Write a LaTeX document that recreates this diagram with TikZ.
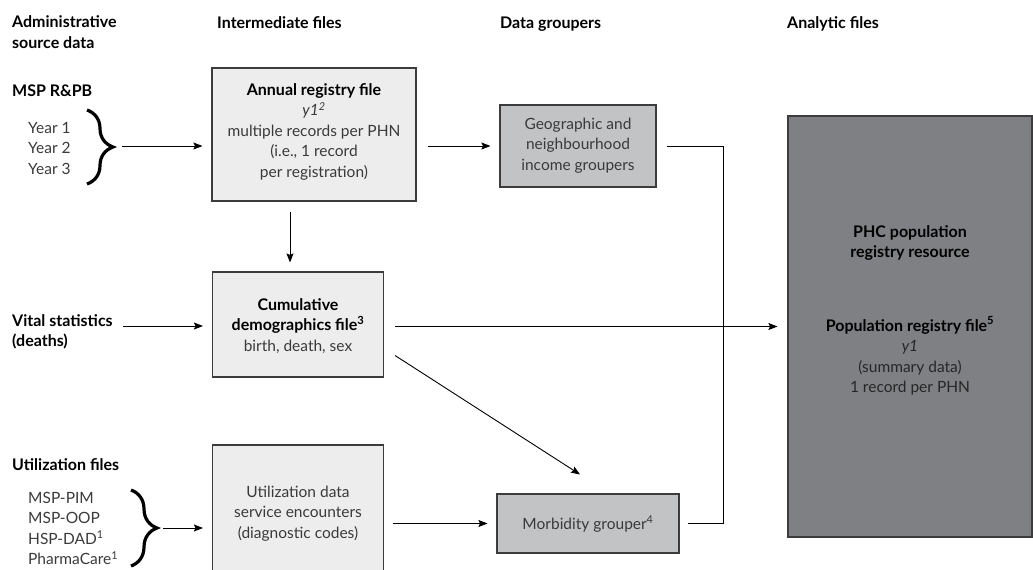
\documentclass[tikz,border=0pt]{standalone}
\usepackage{fontspec}
\setmainfont{Lato}
\usetikzlibrary{arrows.meta,decorations.pathreplacing,calc}
\definecolor{txt}{HTML}{3A3A3A}
\definecolor{edge}{HTML}{3C3C3C}
\definecolor{paleFill}{HTML}{EDEDED}
\definecolor{midFill}{HTML}{C2C3C5}
\definecolor{darkFill}{HTML}{7F8084}
\definecolor{darkTxt}{HTML}{262626}
% bold black heading words, a little larger than body text
\newcommand\headtext[1]{{\fontsize{16}{20.5}\selectfont\textcolor{black}{\bfseries #1}}}
\begin{document}
\begin{tikzpicture}[x=1pt,y=-1pt,
  every node/.style={font=\fontsize{15.5}{20.5}\selectfont, text=txt, inner sep=0pt},
  box/.style={draw=edge, line width=1.1pt, inner sep=0pt},
  label/.style={anchor=base, align=center},
  side/.style={anchor=base west, align=left},
  arr/.style={line width=0.9pt, -{Stealth[length=9pt,width=7pt,inset=1.5pt]}},
  link/.style={line width=0.9pt},
  curly/.style={line width=3.2pt, decorate, decoration={brace, amplitude=26pt}}]
\useasboundingbox (0,0) rectangle (1033,570);

% column headings (multi-line nodes are placed by the baseline of their last line)
\node[side] (adm) at (12,48) {\headtext{Administrative}\\\headtext{source data}};
\node[side] (inter) at (217,28) {\headtext{Intermediate files}};
\node[side] (grp) at (500,28) {\headtext{Data groupers}};
\node[side] (ana) at (787,28) {\headtext{Analytic files}};

% boxes
\node[box, fill=paleFill, minimum width=204pt, minimum height=133pt] (annual) at (314,134.5) {};
\node[box, fill=paleFill, minimum width=171pt, minimum height=105pt] (cumul) at (298,324.5) {};
\node[box, fill=paleFill, minimum width=171pt, minimum height=128pt] (util) at (298,509) {};
\node[box, fill=midFill, minimum width=156pt, minimum height=82pt] (geo) at (578,146) {};
\node[box, fill=midFill, minimum width=182pt, minimum height=59pt] (morb) at (588,523.5) {};
\node[box, fill=darkFill, minimum width=244pt, minimum height=421pt] (phc) at (910,326.5) {};

% box texts
\node[label] (annualtxt) at (314,177) {\headtext{Annual registry file}\\\textit{y1\textsuperscript{2}}\\multiple records per PHN\\(i.e., 1 record\\per registration)};
\node[label] (cumultxt) at (298,351) {\headtext{Cumulative}\\\headtext{demographics file\textsuperscript{3}}\\birth, death, sex};
\node[label] (utiltxt) at (298,538) {Utilization data\\service encounters\\(diagnostic codes)};
\node[label] (geotxt) at (578,170) {Geographic and\\neighbourhood\\income groupers};
\node[label] (morbtxt) at (588,529) {Morbidity grouper\textsuperscript{4}};
\node[label] (phctitle) at (910,257.5) {\headtext{PHC population}\\\headtext{registry resource}};
\node[label, text=darkTxt] (phcfile) at (910,392.5) {\headtext{Population registry file\textsuperscript{5}}\\\textit{y1}\\(summary data)\\1 record per PHN};

% source data
\node[side] (msp) at (12,96) {\headtext{MSP R\&PB}};
\node[side] (years) at (28,174) {Year 1\\Year 2\\Year 3};
\node[side] (vital) at (12,346.5) {\headtext{Vital statistics}\\\headtext{(deaths)}};
\node[side] (uhead) at (12,470) {\headtext{Utilization files}};
\node[side] (ulist) at (28,564.5) {MSP-PIM\\MSP-OOP\\HSP-DAD\textsuperscript{1}\\PharmaCare\textsuperscript{1}};

% braces gathering the source files
\coordinate (b1top) at (87,110);
\coordinate (b1bot) at (87,184);
\coordinate (b1tip) at (122,146);
\coordinate (b2top) at (131,490);
\coordinate (b2bot) at (131,566);
\coordinate (b2tip) at (163,528);
\draw[curly] (b1top) -- (b1bot);
\draw[curly] (b2top) -- (b2bot);

% connectors
\draw[arr, shorten >=9pt] (b1tip) -- (b1tip -| annual.west);
\draw[arr] ([xshift=11pt]annual.east |- b1tip) -- ([xshift=-9pt]geo.west |- b1tip);
\draw[link] ([xshift=10pt]geo.east |- b1tip) -| ([xshift=44pt]morb.east) -- ([xshift=8pt]morb.east);
\draw[arr] ([xshift=-24pt,yshift=-10pt]annual.south) -- ([xshift=-8pt,yshift=9pt]cumul.north);
\draw[arr] ([xshift=10pt,yshift=20.5pt]vital.base east) -- ([xshift=-9pt,yshift=20.5pt]cumul.west |- vital.base east);
\draw[arr] ([xshift=11pt]cumul.east |- phc.west) -- ([xshift=-10pt]phc.west);
\draw[arr] ([xshift=11pt,yshift=-31pt]cumul.east) -- ([xshift=-8pt,yshift=19pt]morb.north);
\draw[arr, shorten >=9pt] (b2tip) -- (b2tip -| util.west);
\draw[arr] ([xshift=9pt]util.east |- morb.west) -- ([xshift=-9pt]morb.west);
\end{tikzpicture}
\end{document}
